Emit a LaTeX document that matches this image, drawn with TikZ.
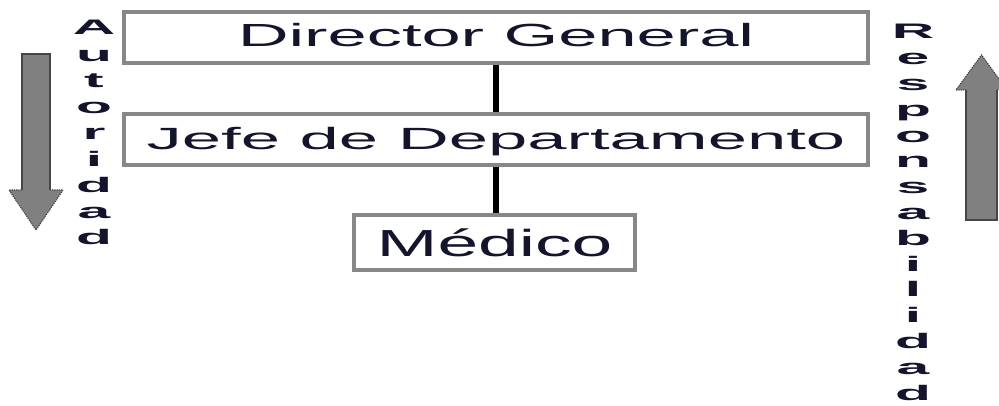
\documentclass[tikz,border=0pt]{standalone}
\usepackage{fontspec}
\setmainfont{Liberation Sans}
\usepackage{graphicx}
\definecolor{txtc}{RGB}{20,20,45}
\definecolor{boxc}{RGB}{135,135,135}
\definecolor{arrc}{RGB}{128,128,128}
\definecolor{arrd}{RGB}{70,70,70}
\newcommand{\stxt}[4]{\raisebox{#4}[0pt][0pt]{\fontsize{#1}{#1}\selectfont\scalebox{#2}[1]{#3}}}
\begin{document}
\begin{tikzpicture}[x=1pt,y=-1pt,
  orgbox/.style={draw=boxc,line width=4pt,fill=white,inner sep=0pt,text=txtc},
  conn/.style={draw=black,line width=6pt},
  vlet/.style={anchor=base,inner sep=0pt,text=txtc,font=\fontsize{21}{21}\selectfont\bfseries},
  bigarrow/.style={fill=arrc,draw=none},
  arrhead/.style={draw=arrd,line width=1.2pt,densely dotted},
  arredge/.style={draw=arrd,line width=1.2pt}]
\useasboundingbox (0,0) rectangle (999,406);
\clip (0,0) rectangle (999,406);
\fill[white] (0,0) rectangle (999,406);
% boxes
\node[orgbox,minimum width=744pt,minimum height=51pt] (dir) at (496,37.5)
  {\stxt{32pt}{2.2}{Director General}{-9.5pt}};
\node[orgbox,minimum width=744pt,minimum height=51pt] (jefe) at (496,139.5)
  {\stxt{30.7pt}{2.3}{Jefe de Departamento}{-10.5pt}};
\node[orgbox,minimum width=281pt,minimum height=55pt] (med) at (494.5,242.5)
  {\stxt{37.7pt}{1.94}{Médico}{-14.5pt}};
% connectors
\draw[conn] (dir.south) -- (jefe.north);
\draw[conn] (jefe.south) -- (jefe.south |- med.north);
% left arrow (Autoridad)
\fill[bigarrow] (22,54) -- (50,54) -- (50,190) -- (63,190) -- (36,230) -- (9,190) -- (22,190) -- cycle;
\draw[arredge] (22,190) -- (22,54) -- (50,54) -- (50,190);
\draw[arrhead] (50,190) -- (63,190) -- (36,230) -- (9,190) -- (22,190);
% right arrow (Responsabilidad)
\fill[bigarrow] (966,220) -- (997,220) -- (997,90) -- (1007,90) -- (981.5,55) -- (956,90) -- (966,90) -- cycle;
\draw[arredge] (966,90) -- (966,220) -- (997,220) -- (997,90);
\draw[arrhead] (997,90) -- (1007,90) -- (981.5,55) -- (956,90) -- (966,90);
% vertical labels
\foreach \c [count=\i] in {A,u,t,o,r,i,d,a,d}
  \node[vlet] (L\i) at (94,{35+(\i-1)*26.25}) {\scalebox{2.8}[1]{\c}};
\foreach \c [count=\i] in {R,e,s,p,o,n,s,a,b,i,l,i,d,a,d}
  \node[vlet] (R\i) at (913,{39+(\i-1)*25.8}) {\scalebox{2.8}[1]{\c}};
\end{tikzpicture}
\end{document}
